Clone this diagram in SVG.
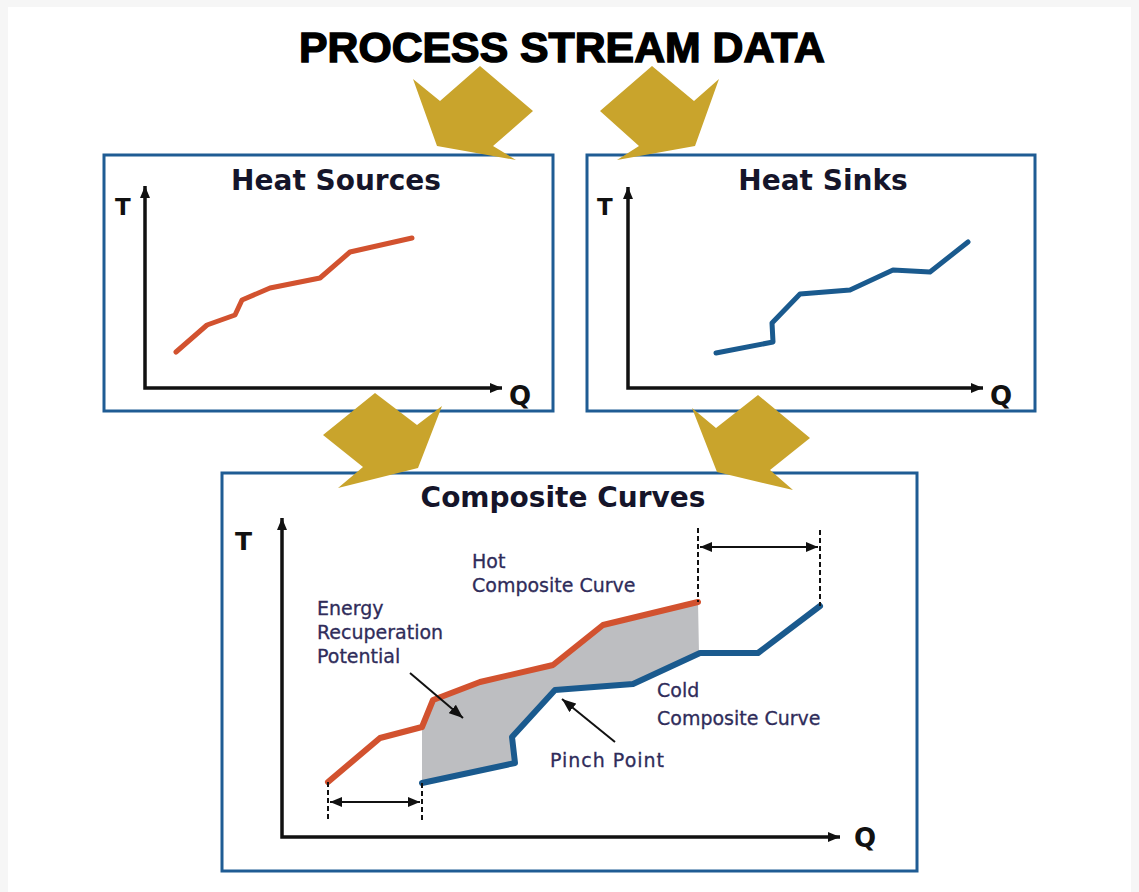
<svg xmlns="http://www.w3.org/2000/svg" width="1139" height="892" viewBox="0 0 1139 892">
  <style>
    .box { fill: #ffffff; stroke: #1f5c94; stroke-width: 3; }
    .gold { fill: #c9a42c; }
    .axis { fill: none; stroke: #111111; stroke-width: 3.5; }
    .title { font-family: "DejaVu Sans", sans-serif; font-weight: bold; font-size: 28px; fill: #15152a; text-anchor: middle; }
    .axlbl { font-family: "DejaVu Sans", sans-serif; font-weight: bold; fill: #111111; }
    .lbl { font-family: "DejaVu Sans", sans-serif; font-size: 19px; fill: #2f2c5a; stroke: #2f2c5a; stroke-width: 0.3; }
    .hot { fill: none; stroke: #d2522f; stroke-linejoin: round; stroke-linecap: round; }
    .cold { fill: none; stroke: #1a5a8e; stroke-linejoin: round; stroke-linecap: round; }
    .dash { fill: none; stroke: #111111; stroke-width: 2; stroke-dasharray: 5 3; }
    .thin { fill: none; stroke: #111111; stroke-width: 2; }
  </style>
  <defs>
    <marker id="ah" markerUnits="userSpaceOnUse" markerWidth="12" markerHeight="10" refX="12" refY="5" orient="auto-start-reverse">
      <path d="M0,0 L12,5 L0,10 z" fill="#111111"/>
    </marker>
    <marker id="ah2" markerUnits="userSpaceOnUse" markerWidth="14" markerHeight="11" refX="14" refY="5.5" orient="auto-start-reverse">
      <path d="M0,0 L14,5.5 L0,11 z" fill="#111111"/>
    </marker>
  </defs>

  <rect x="0" y="0" width="1139" height="892" fill="#f6f6f6"/>
  <rect x="8" y="7" width="1123" height="885" fill="#ffffff"/>

  <g id="title">
    <text x="562" y="62" font-family="Liberation Sans, Arial, sans-serif" font-weight="bold" font-size="42" fill="#000000" stroke="#000000" stroke-width="1.4" text-anchor="middle" textLength="526" lengthAdjust="spacingAndGlyphs">PROCESS STREAM DATA</text>
  </g>

  <g id="heat-sources">
    <rect class="box" x="104" y="155" width="449" height="256"/>
    <text class="title" x="336" y="190">Heat Sources</text>
    <polyline class="axis" points="145,186 145,388 502,388" marker-start="url(#ah)" marker-end="url(#ah)"/>
    <text class="axlbl" x="115" y="215" font-size="23">T</text>
    <text class="axlbl" x="509" y="405" font-size="26">Q</text>
    <polyline class="hot" stroke-width="5" points="176,352 207,325 235,315 242,300 270,288 320,278 350,252 412,238"/>
  </g>

  <g id="heat-sinks">
    <rect class="box" x="587" y="155" width="448" height="256"/>
    <text class="title" x="823" y="190">Heat Sinks</text>
    <polyline class="axis" points="628,187 628,388 983,388" marker-start="url(#ah)" marker-end="url(#ah)"/>
    <text class="axlbl" x="597" y="215" font-size="23">T</text>
    <text class="axlbl" x="990" y="405" font-size="26">Q</text>
    <polyline class="cold" stroke-width="5" points="716,353 773,342 772,323 800,294 850,290 893,270 930,272 968,242"/>
  </g>

  <g id="composite-curves">
    <rect class="box" x="222" y="473" width="695" height="398"/>
    <text class="title" x="563" y="507" font-size="29.5px">Composite Curves</text>
    <polyline class="axis" points="282,518 282,837 840,837" marker-start="url(#ah)" marker-end="url(#ah)"/>
    <text class="axlbl" x="235" y="550" font-size="25">T</text>
    <text class="axlbl" x="854" y="847" font-size="26">Q</text>

    <polygon fill="#bdbec1" points="422,727 433,700 480,682 553,665 603,625 698,602 699,653 633,684 555,690 512,737 515,763 422,783"/>
    <polyline class="hot" stroke-width="6" points="328,782 380,738 422,727 433,700 480,682 553,665 603,625 698,602"/>
    <polyline class="cold" stroke-width="6" points="422,783 515,763 512,737 555,690 633,684 700,653 758,653 820,606"/>

    <line class="dash" x1="328" y1="782" x2="328" y2="822"/>
    <line class="dash" x1="422" y1="783" x2="422" y2="822"/>
    <line class="thin" x1="330" y1="802" x2="420" y2="802" marker-start="url(#ah)" marker-end="url(#ah)"/>

    <line class="dash" x1="698" y1="528" x2="698" y2="602"/>
    <line class="dash" x1="820" y1="530" x2="820" y2="606"/>
    <line class="thin" x1="700" y1="547" x2="818" y2="547" marker-start="url(#ah)" marker-end="url(#ah)"/>

    <line class="thin" x1="410" y1="673" x2="463" y2="718" marker-end="url(#ah2)"/>
    <line class="thin" x1="615" y1="742" x2="562" y2="699" marker-end="url(#ah2)"/>

    <text class="lbl" x="472" y="568">Hot</text>
    <text class="lbl" x="472" y="592">Composite Curve</text>
    <text class="lbl" x="317" y="615">Energy</text>
    <text class="lbl" x="317" y="639">Recuperation</text>
    <text class="lbl" x="317" y="663">Potential</text>
    <text class="lbl" x="657" y="697">Cold</text>
    <text class="lbl" x="657" y="725">Composite Curve</text>
    <text class="lbl" x="550" y="767" textLength="114">Pinch Point</text>
  </g>

  <g id="connectors">
    <polygon class="gold" points="480,66 533,111 493,146 516,160 437,146 413,79 440,101"/>
    <polygon class="gold" points="652,66 600,111 639,146 617,160 695,146 719,79 694,101"/>
    <polygon class="gold" points="375,393 417,425 442,406 418,468 338,488 363,467 323,435"/>
    <polygon class="gold" points="758,395 810,438 770,470 793,490 717,472 692,408 716,428"/>
  </g>
</svg>
